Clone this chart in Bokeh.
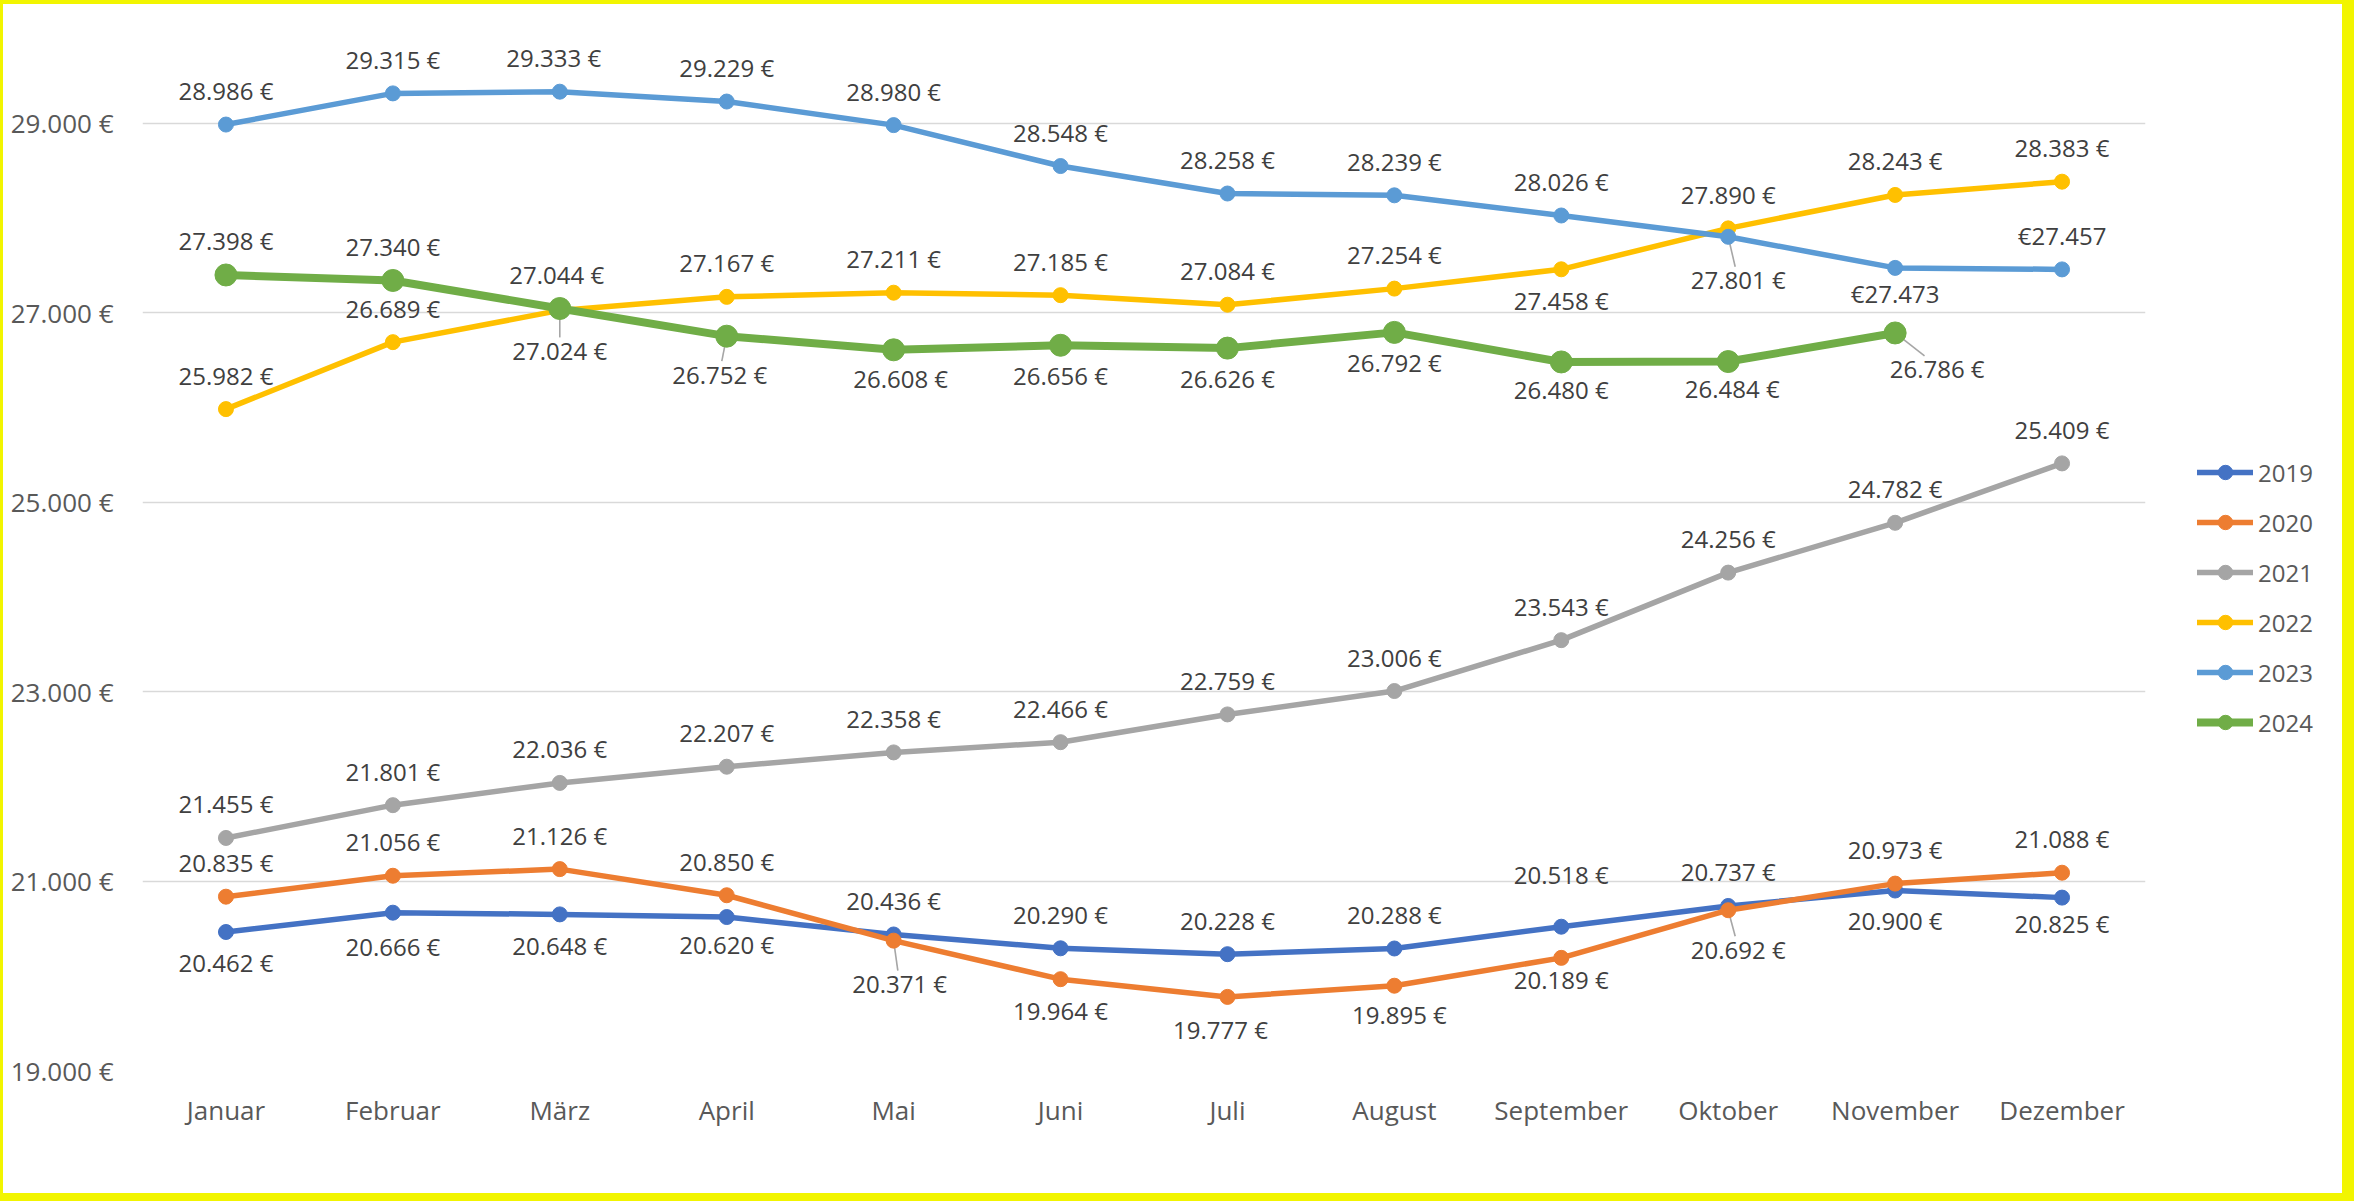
from bokeh.plotting import figure
from bokeh.models import Range1d, FixedTicker, Legend, LegendItem, ColumnDataSource
from bokeh.layouts import row
from bokeh.core.properties import value
from bokeh.embed import file_html
from bokeh.resources import INLINE

# ---------------- data ----------------
months = ["Januar", "Februar", "März", "April", "Mai", "Juni", "Juli",
          "August", "September", "Oktober", "November", "Dezember"]
years = ["2019", "2020", "2021", "2022", "2023", "2024"]

v2019 = [20462, 20666, 20648, 20620, 20436, 20290, 20228, 20288, 20518, 20737, 20900, 20825]
v2020 = [20835, 21056, 21126, 20850, 20371, 19964, 19777, 19895, 20189, 20692, 20973, 21088]
v2021 = [21455, 21801, 22036, 22207, 22358, 22466, 22759, 23006, 23543, 24256, 24782, 25409]
v2022 = [25982, 26689, 27024, 27167, 27211, 27185, 27084, 27254, 27458, 27890, 28243, 28383]
v2023 = [28986, 29315, 29333, 29229, 28980, 28548, 28258, 28239, 28026, 27801, 27473, 27457]
v2024 = [27398, 27340, 27044, 26752, 26608, 26656, 26626, 26792, 26480, 26484, 26786]

# 2023 Nov/Dez labels are shown with a leading euro sign
euro_first_2023 = [False] * 10 + [True, True]

y_ticks = [19000, 21000, 23000, 25000, 27000, 29000]
y_tick_labels = ["19.000 €", "21.000 €", "23.000 €", "25.000 €", "27.000 €", "29.000 €"]

# ---------------- styling / placement ----------------
colors = ["#4472C4", "#ED7D31", "#A5A5A5", "#FFC000", "#5B9BD5", "#70AD47"]
line_widths = [5.5, 5.5, 5.5, 5.5, 5.5, 8]
marker_sizes = [15, 15, 15, 15, 15, 22]

# label offsets in screen pixels (dy > 0 -> below the point)
dy = [
    [30, 34, 31, 27, -34, -34, -34, -34, -52, -34, 30, 26],
    [-34, -34, -34, -34, 43, 31, 33, 29, 22, 39, -34, -34],
    [-34] * 12,
    [-34, -34, 40, -34, -34, -34, -34, -34, 31, -34, -34, -34],
    [-34] * 9 + [43, 26, -34],
    [-34, -34, -34, 38, 29, 30, 30, 30, 28, 27, 36],
]
dx = [
    [0] * 12,
    [0, 0, 0, 0, 6, 0, -7, 5, 0, 10, 0, 0],
    [0] * 12,
    [0] * 12,
    [0, 0, -6, 0, 0, 0, 0, 0, 0, 10, 0, 0],
    [0, 0, -3, -7, 7, 0, 0, 0, 0, 4, 42],
]
leader = [
    [],
    [4, 9],
    [],
    [2],
    [9],
    [3, 10],
]

W_MAIN, W_LEG, H = 2180, 159, 1189
LEFT, RIGHT, TOP, BOTTOM = 139, 38, 24, 123
Y0, Y1 = 19000, 30000
FW, FH = W_MAIN - LEFT - RIGHT, H - TOP - BOTTOM
px_x = FW / 12.0
px_y = FH / float(Y1 - Y0)

TEXT_DARK = "#404040"
TEXT_AXIS = "#595959"
YELLOW = "#F2F500"


def fmt(v, euro_first=False):
    s = f"{v:,}".replace(",", ".")
    return "€" + s if euro_first else s + " €"


p = figure(width=W_MAIN, height=H, output_backend="svg", toolbar_location=None,
           x_range=Range1d(-0.5, 11.5), y_range=Range1d(Y0, Y1),
           min_border_left=LEFT, min_border_right=RIGHT,
           min_border_top=TOP, min_border_bottom=BOTTOM,
           margin=(4, 0, 8, 3), styles={"background-color": "white"})
p.outline_line_color = None
p.background_fill_color = "white"
p.border_fill_color = "white"

p.xgrid.grid_line_color = None
p.ygrid.grid_line_color = "#D9D9D9"
p.ygrid.grid_line_width = 1.6
p.ygrid.ticker = FixedTicker(ticks=y_ticks)

p.xaxis.ticker = FixedTicker(ticks=list(range(12)))
p.xaxis.major_label_overrides = {i: m for i, m in enumerate(months)}
p.yaxis.ticker = FixedTicker(ticks=y_ticks)
p.yaxis.major_label_overrides = {t: l for t, l in zip(y_ticks, y_tick_labels)}
for ax in (p.xaxis[0], p.yaxis[0]):
    ax.axis_line_color = None
    ax.major_tick_line_color = None
    ax.minor_tick_line_color = None
    ax.major_tick_out = 0
    ax.major_tick_in = 0
    ax.major_label_text_font = "Open Sans"
    ax.major_label_text_font_size = "26px"
    ax.major_label_text_color = TEXT_AXIS
p.xaxis.major_label_standoff = 21
p.yaxis.major_label_standoff = 29

series = [v2019, v2020, v2021, v2022, v2023, v2024]

# leader lines (drawn first so markers cover their start)
lx0, ly0, lx1, ly1 = [], [], [], []
for s, vals in enumerate(series):
    for i in leader[s]:
        ex = dx[s][i] * 0.7
        ey = dy[s][i] - (13 if dy[s][i] > 0 else -13)
        lx0.append(i)
        ly0.append(vals[i])
        lx1.append(i + ex / px_x)
        ly1.append(vals[i] - ey / px_y)
p.segment(lx0, ly0, lx1, ly1, line_color="#A6A6A6", line_width=1.6)

for s, vals in enumerate(series):
    xs = list(range(len(vals)))
    src = ColumnDataSource(dict(x=xs, y=vals))
    p.line("x", "y", source=src, line_color=colors[s], line_width=line_widths[s],
           line_join="round", line_cap="round")
    p.scatter("x", "y", source=src, size=marker_sizes[s], marker="circle",
              fill_color=colors[s], line_color=colors[s])

for s, vals in enumerate(series):
    xs = list(range(len(vals)))
    if s == 4:
        texts = [fmt(v, e) for v, e in zip(vals, euro_first_2023)]
    else:
        texts = [fmt(v) for v in vals]
    src = ColumnDataSource(dict(x=xs, y=vals, t=texts,
                                xo=dx[s][:len(vals)], yo=dy[s][:len(vals)]))
    p.text("x", "y", text="t", source=src, x_offset="xo", y_offset="yo",
           text_align="center", text_baseline="middle",
           text_font=value("Open Sans"),
           text_font_size="24px", text_color=TEXT_DARK)

# ---------------- legend panel (separate narrow figure) ----------------
# same series drawn here, outside this panel's visible range, only to feed the legend
lf = figure(width=W_LEG, height=H, output_backend="svg", toolbar_location=None,
            x_range=Range1d(0, 1), y_range=Range1d(0, 1),
            x_axis_type=None, y_axis_type=None,
            min_border_left=0, min_border_right=0, min_border_top=0, min_border_bottom=0,
            margin=(4, 12, 8, 0), styles={"background-color": "white"})
lf.outline_line_color = None
lf.xgrid.visible = False
lf.ygrid.visible = False
lf.background_fill_color = "white"
lf.border_fill_color = "white"

items = []
for s, vals in enumerate(series):
    src = ColumnDataSource(dict(x=list(range(len(vals))), y=vals))
    r1 = lf.line("x", "y", source=src, line_color=colors[s], line_width=line_widths[s],
                 line_cap="round")
    r2 = lf.scatter("x", "y", source=src, size=marker_sizes[s], marker="circle",
                    fill_color=colors[s], line_color=colors[s])
    items.append(LegendItem(label=years[s], renderers=[r1, r2]))

legend = Legend(items=items, location=(14, 330), orientation="vertical",
                glyph_width=56, glyph_height=36, label_height=30, spacing=14,
                label_standoff=5, padding=0, margin=0,
                border_line_color=None, background_fill_alpha=0,
                label_text_font="Open Sans", label_text_font_size="24px",
                label_text_color=TEXT_AXIS)
lf.add_layout(legend, "center")

page = row(p, lf, width=2354, height=1201, styles={"background-color": YELLOW})

open("out.html", "w").write(file_html(page, INLINE))
